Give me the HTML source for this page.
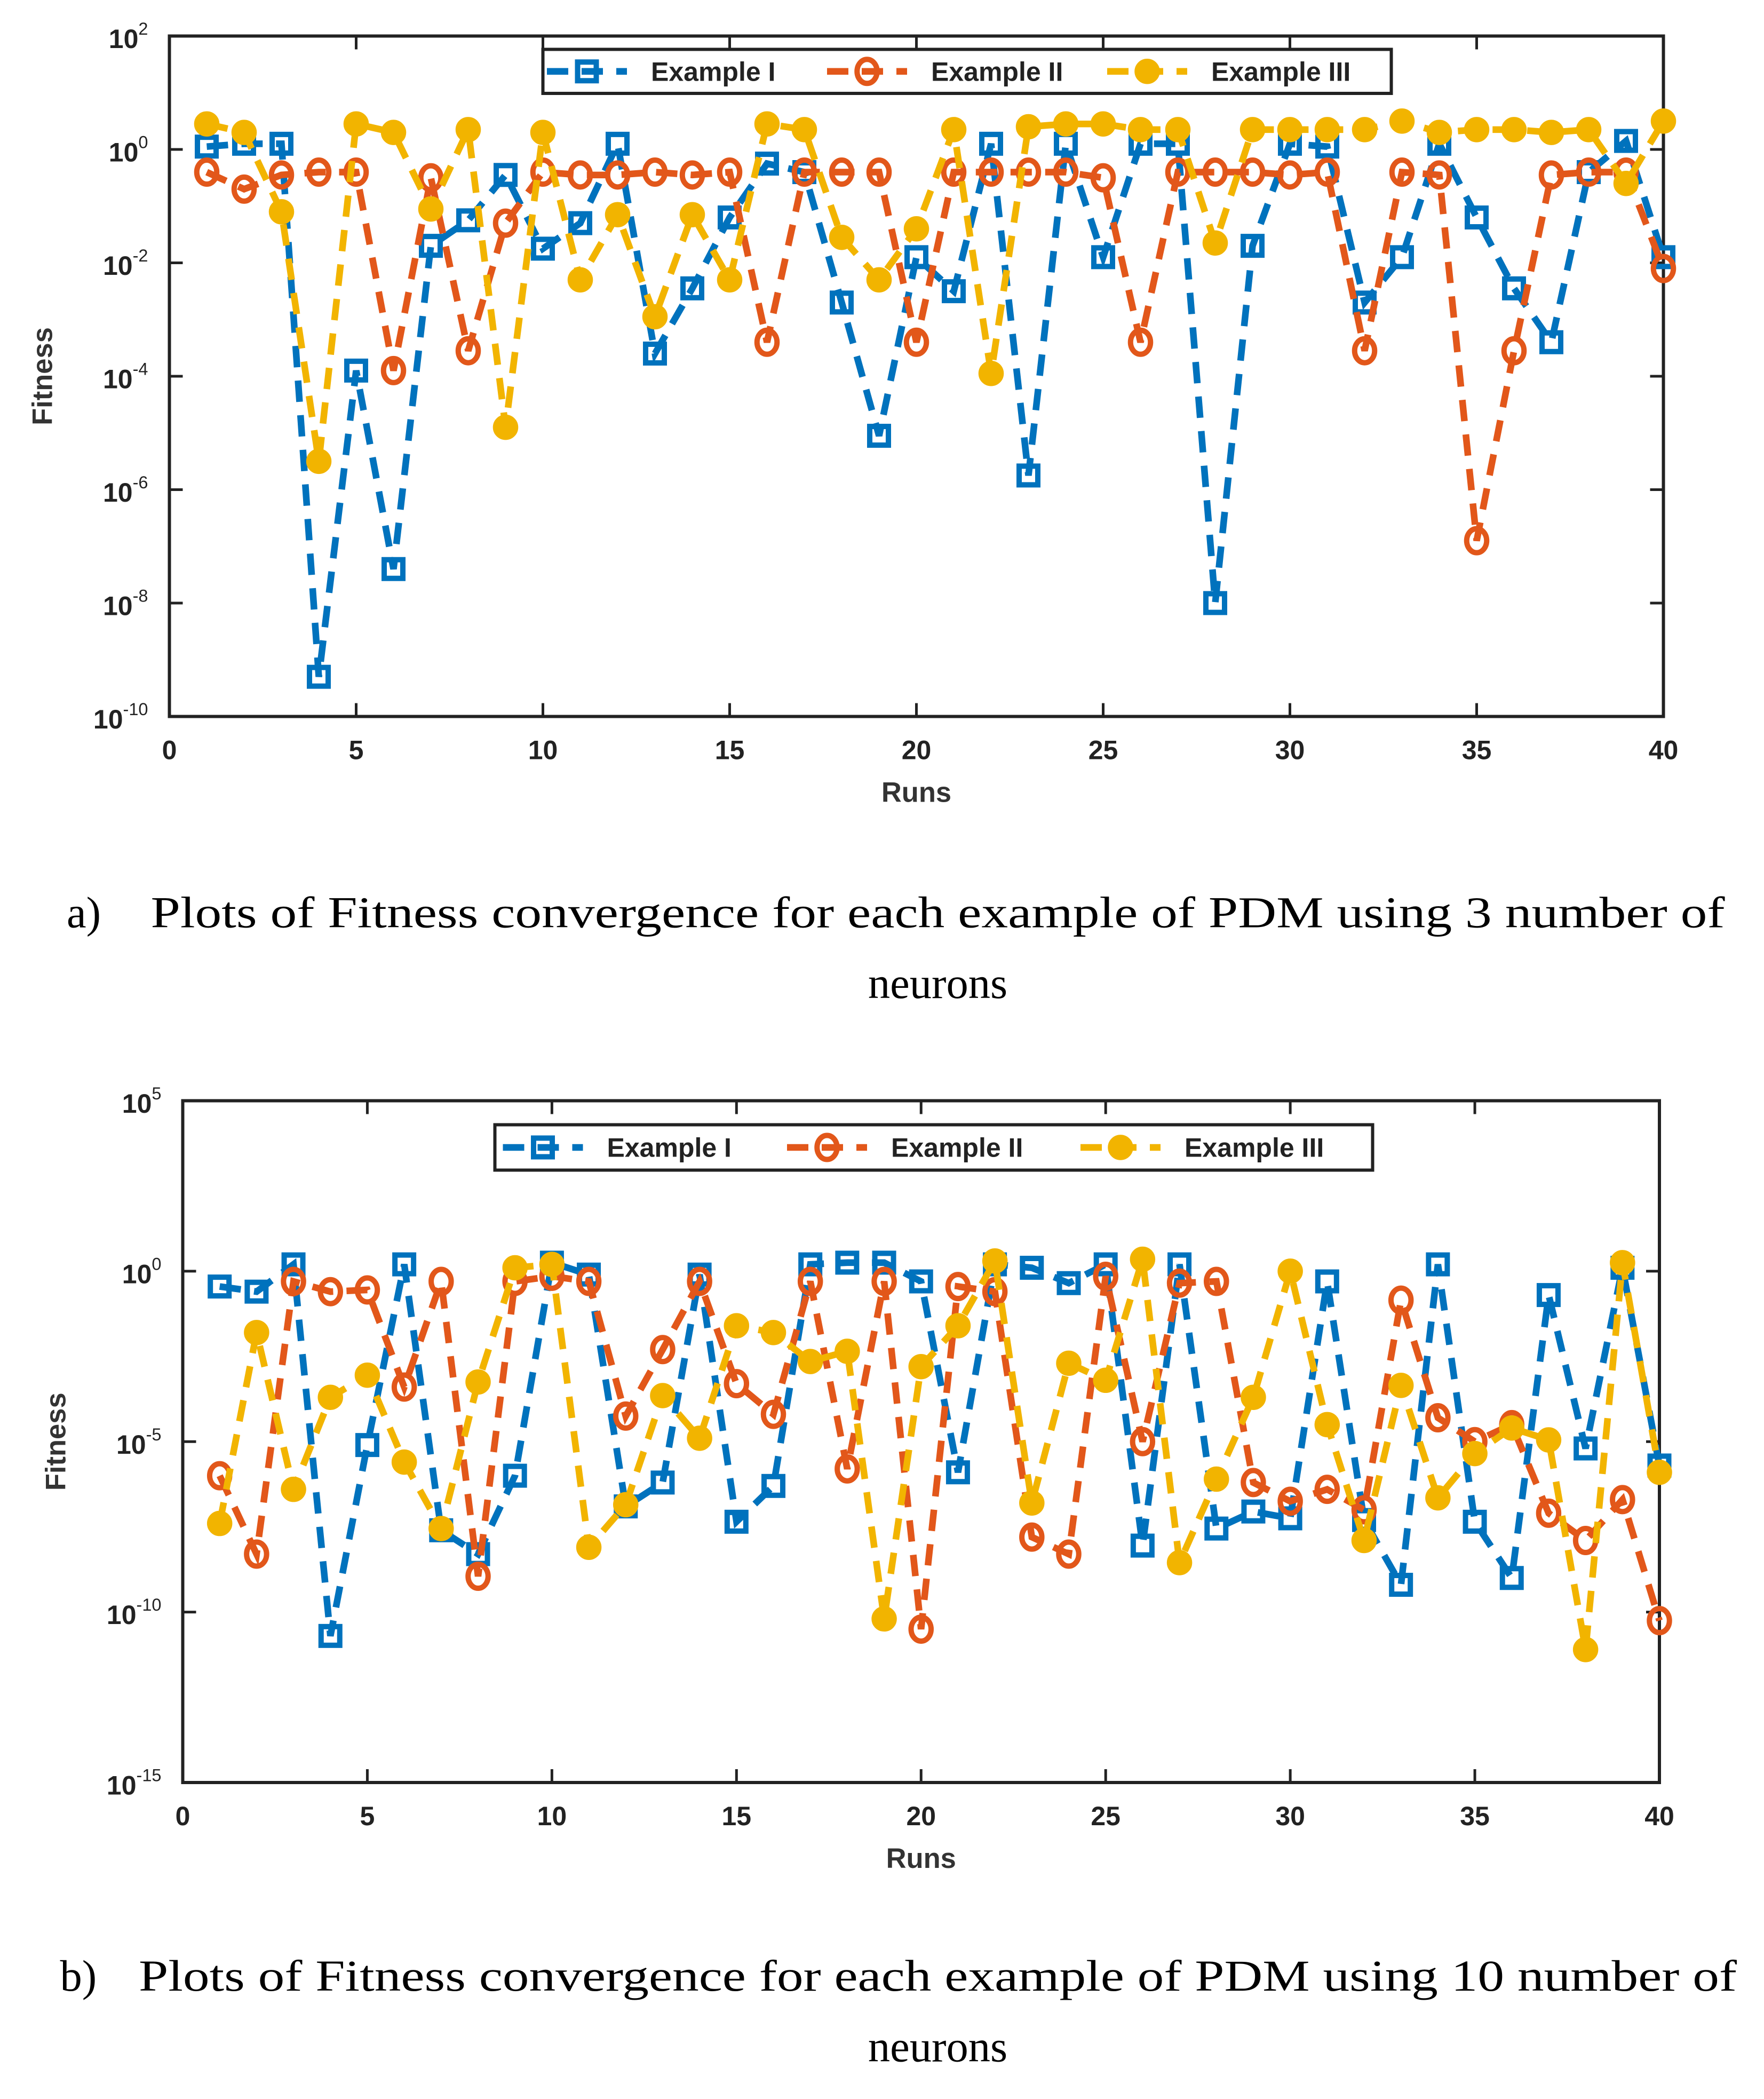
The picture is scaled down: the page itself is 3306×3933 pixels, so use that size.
<!DOCTYPE html>
<html><head><meta charset="utf-8"><style>html,body{margin:0;padding:0;background:#fff}svg{display:block}</style></head>
<body>
<svg id="root" width="3306" height="3933" viewBox="0 0 1322.4 1573.2" xmlns="http://www.w3.org/2000/svg" font-family="Liberation Sans, sans-serif">
<g id="chartA"></g>
<g id="chartB"></g>
<text x="50" y="695" font-family="Liberation Serif, serif" font-size="33" fill="#000">a)</text>
<text x="113" y="695" font-family="Liberation Serif, serif" font-size="33" textLength="1180" lengthAdjust="spacingAndGlyphs" fill="#000">Plots of Fitness convergence for each example of PDM using 3 number of</text>
<text x="703" y="748" text-anchor="middle" font-family="Liberation Serif, serif" font-size="33" fill="#000">neurons</text>
<text x="45" y="1492" font-family="Liberation Serif, serif" font-size="33" fill="#000">b)</text>
<text x="104" y="1492" font-family="Liberation Serif, serif" font-size="33" textLength="1198" lengthAdjust="spacingAndGlyphs" fill="#000">Plots of Fitness convergence for each example of PDM using 10 number of</text>
<text x="703" y="1545" text-anchor="middle" font-family="Liberation Serif, serif" font-size="33" fill="#000">neurons</text>
</svg>
<script>
const runs = Array.from({length:40},(_, i)=>i+1);
// log10 fitness values, chart a (3 neurons)
const aEx1 = [0.05,0.1,0.1,-9.3,-3.9,-7.4,-1.7,-1.25,-0.45,-1.75,-1.3,0.1,-3.6,-2.45,-1.2,-0.25,-0.4,-2.7,-5.05,-1.9,-2.5,0.1,-5.75,0.1,-1.9,0.1,0.1,-8.0,-1.7,0.1,0.05,-2.7,-1.9,0.1,-1.2,-2.45,-3.4,-0.4,0.15,-1.9];
const aEx2 = [-0.4,-0.7,-0.45,-0.4,-0.4,-3.9,-0.5,-3.55,-1.3,-0.4,-0.45,-0.45,-0.4,-0.45,-0.4,-3.4,-0.4,-0.4,-0.4,-3.4,-0.4,-0.4,-0.4,-0.4,-0.5,-3.4,-0.4,-0.4,-0.4,-0.45,-0.4,-3.55,-0.4,-0.45,-6.9,-3.55,-0.45,-0.4,-0.4,-2.1];
const aEx3 = [0.45,0.3,-1.1,-5.5,0.45,0.3,-1.05,0.35,-4.9,0.3,-2.3,-1.15,-2.95,-1.15,-2.3,0.45,0.35,-1.55,-2.3,-1.4,0.35,-3.95,0.4,0.45,0.45,0.35,0.35,-1.65,0.35,0.35,0.35,0.35,0.5,0.3,0.35,0.35,0.3,0.35,-0.6,0.5];
// chart b (10 neurons)
const bEx1 = [-0.45,-0.6,0.2,-10.7,-5.1,0.2,-7.6,-8.3,-6,0.25,-0.1,-6.9,-6.2,-0.1,-7.35,-6.3,0.2,0.25,0.25,-0.3,-5.9,0.2,0.1,-0.35,0.2,-8.05,0.2,-7.55,-7.05,-7.25,-0.3,-7.3,-9.2,0.2,-7.35,-9.0,-0.7,-5.2,0.1,-5.7];
const bEx2 = [-6,-8.3,-0.3,-0.6,-0.55,-3.4,-0.3,-8.95,-0.3,-0.15,-0.3,-4.25,-2.3,-0.3,-3.3,-4.2,-0.3,-5.8,-0.3,-10.5,-0.45,-0.6,-7.8,-8.3,-0.15,-5.0,-0.35,-0.3,-6.2,-6.75,-6.4,-7.0,-0.85,-4.3,-5.0,-4.5,-7.1,-7.9,-6.7,-10.25];
const bEx3 = [-7.4,-1.8,-6.4,-3.7,-3.05,-5.6,-7.55,-3.25,0.1,0.2,-8.1,-6.85,-3.65,-4.9,-1.6,-1.8,-2.65,-2.35,-10.2,-2.8,-1.6,0.3,-6.8,-2.7,-3.2,0.35,-8.55,-6.1,-3.7,0,-4.5,-7.9,-3.35,-6.65,-5.35,-4.6,-4.95,-11.1,0.25,-5.9];
const xTicks = [0,5,10,15,20,25,30,35,40];
const aYTicks = [2,0,-2,-4,-6,-8,-10];
const bYTicks = [5,0,-5,-10,-15];
const seriesNames = ['Example I','Example II','Example III'];
const colors = ['#0072BD','#E2571A','#F2B400'];
const NS='http://www.w3.org/2000/svg';
function mk(tag, attrs, parent){const e=document.createElementNS(NS,tag);for(const k in attrs)e.setAttribute(k,attrs[k]);parent.appendChild(e);return e;}
function marker(g, k, x, y){
  let m;
  if(k===0){m=mk('rect',{x:x-7,y:y-7,width:14,height:14,fill:'none',stroke:colors[0],'stroke-width':4},g);}
  else if(k===1){m=mk('ellipse',{cx:x,cy:y,rx:7.5,ry:9,fill:'none',stroke:colors[1],'stroke-width':4},g);}
  else {m=mk('circle',{cx:x,cy:y,r:9,fill:colors[2],stroke:colors[2],'stroke-width':1},g);}
  return m;
}
function drawChart(g, L, R, T, B, yMax, yMin, yTicks, series, leg){
  const sx = v => L + (v-0)/(40-0)*(R-L);
  const sy = v => T + (yMax - v)/(yMax-yMin)*(B-T);
  const frame = mk('rect',{x:L,y:T,width:R-L,height:B-T,fill:'#fff',stroke:'#222','stroke-width':2.4},g);
   
  xTicks.forEach(t=>{
    const x=sx(t);
    mk('line',{x1:x,y1:B,x2:x,y2:B-10,stroke:'#222','stroke-width':2},g);
    mk('line',{x1:x,y1:T,x2:x,y2:T+10,stroke:'#222','stroke-width':2},g);
    const tx=mk('text',{x:x,y:B+32,'text-anchor':'middle','font-size':20,'font-weight':'bold',fill:'#222'},g);
    tx.textContent=t;
     
  });
  yTicks.forEach(t=>{
    const y=sy(t);
    mk('line',{x1:L,y1:y,x2:L+10,y2:y,stroke:'#222','stroke-width':2},g);
    mk('line',{x1:R,y1:y,x2:R-10,y2:y,stroke:'#222','stroke-width':2},g);
    const tx=mk('text',{x:L-16,y:y+9,'text-anchor':'end','font-size':20,'font-weight':'bold',fill:'#222'},g);
     
    tx.appendChild(document.createTextNode('10'));
    const sp=mk('tspan',{dy:-10,'font-size':13,'font-weight':'normal'},tx); sp.textContent=String(t);
  });
  const xl=mk('text',{x:(L+R)/2,y:B+64,'text-anchor':'middle','font-size':21,'font-weight':'bold',fill:'#333'},g);
  xl.textContent='Runs';  
  const yl=mk('text',{x:0,y:0,'text-anchor':'middle','font-size':21,'font-weight':'bold',fill:'#333',transform:`translate(${L-88},${(T+B)/2}) rotate(-90)`},g);
  yl.textContent='Fitness';  
  series.forEach((vals,k)=>{
    const sg=mk('g',{},g);
     
    const pts=vals.map((v,i)=>sx(runs[i])+','+sy(v)).join(' ');
    mk('polyline',{points:pts,fill:'none',stroke:colors[k],'stroke-width':5,'stroke-dasharray':'16 10'},sg);
    vals.forEach((v,i)=>{const m=marker(sg,k,sx(runs[i]),sy(v));
       });
  });
  const lg=mk('g',{},g);
   
  mk('rect',{x:leg.x,y:leg.y,width:leg.w,height:leg.h,fill:'#fff',stroke:'#222','stroke-width':2.4},lg);
  const cy=leg.y+leg.h/2;
  leg.items.forEach((ix,k)=>{
    const e=mk('g',{},lg);
     
    mk('line',{x1:ix-30,y1:cy,x2:ix+30,y2:cy,stroke:colors[k],'stroke-width':5,'stroke-dasharray':'16 10'},e);
    marker(e,k,ix,cy);
    const t=mk('text',{x:ix+48,y:cy+7,'font-size':20,'font-weight':'bold',fill:'#222'},e);
    t.textContent=seriesNames[k];
  });
}
drawChart(document.getElementById('chartA'),127,1247,27,537,2,-10,aYTicks,[aEx1,aEx2,aEx3],
  {x:407,y:37,w:636,h:33,items:[440,650,860]});
drawChart(document.getElementById('chartB'),137,1244,825,1336,5,-15,bYTicks,[bEx1,bEx2,bEx3],
  {x:371,y:843,w:658,h:34,items:[407,620,840]});
</script>
</body></html>
